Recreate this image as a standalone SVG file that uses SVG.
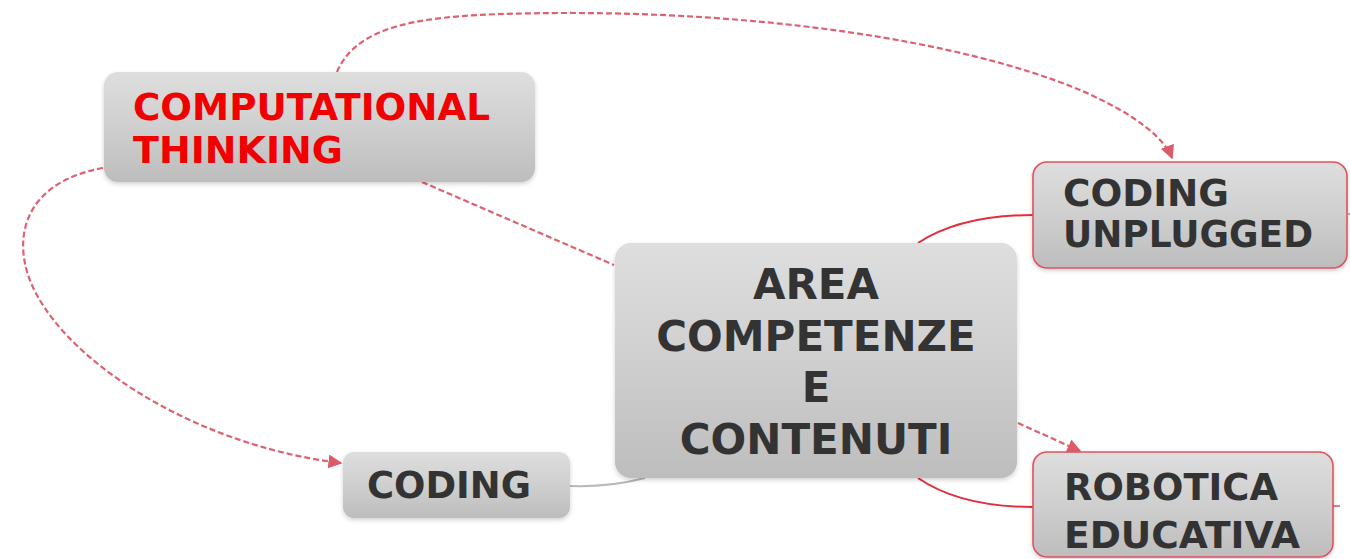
<svg xmlns="http://www.w3.org/2000/svg" width="1350" height="559" viewBox="0 0 1350 559">
<style>
.node{fill:url(#g);filter:url(#sh)}
.red{stroke:#e0525f;stroke-width:1.6}
.t{font-family:"DejaVu Sans",Verdana,sans-serif;font-weight:bold;fill:#333333;font-size:37.5px}
.tr{fill:#f20000}
.dash{fill:none;stroke:#de6170;stroke-width:2.2;stroke-dasharray:6 3}
.solid{fill:none;stroke:#e0303e;stroke-width:2}
</style>
<defs>
<linearGradient id="g" x1="0" y1="0" x2="0" y2="1">
<stop offset="0" stop-color="#dedede"/>
<stop offset="0.5" stop-color="#cfcfcf"/>
<stop offset="1" stop-color="#bdbdbd"/>
</linearGradient>
<filter id="sh" x="-10%" y="-10%" width="120%" height="130%">
<feDropShadow dx="0" dy="2" stdDeviation="2" flood-color="#000" flood-opacity="0.18"/>
</filter>
<marker id="ahb" viewBox="0 0 10 10" refX="9" refY="5" markerWidth="14" markerHeight="14" orient="auto" markerUnits="userSpaceOnUse">
<path d="M0,0 L10,5 L0,10 z" fill="#de5a68"/>
</marker>
</defs>
<rect width="1350" height="559" fill="#ffffff"/>
<g id="connectors">
<path class="dash" d="M337,72 C360,18 440,14 560,13 C760,12 960,40 1080,90 C1140,116 1165,140 1172,158" marker-end="url(#ahb)"/>
<path class="dash" d="M103,168 C35,180 12,225 28,275 C55,355 190,445 341,463" marker-end="url(#ahb)"/>
<path class="dash" d="M422,182 L614,265"/>
<path class="dash" d="M1018,423 L1080,451" marker-end="url(#ahb)"/>
<path class="solid" d="M918,243 C950,222 990,215 1033,215"/>
<path class="solid" d="M918,478 C950,500 990,507 1033,507"/>
<path fill="none" stroke="#b8b8b8" stroke-width="2" d="M570,486 C600,487 622,484 645,478"/>
<path fill="none" stroke="#999" stroke-width="1.5" d="M1348,214 L1350,214"/>
<path fill="none" stroke="#e0525f" stroke-width="1.5" d="M1333,506 L1340,506"/>
</g>
<g id="node-ct">
<rect class="node" x="104" y="72" width="431" height="110" rx="14"/>
<text class="t tr" x="133" y="120" textLength="357" lengthAdjust="spacingAndGlyphs">COMPUTATIONAL</text>
<text class="t tr" x="133" y="163" textLength="210" lengthAdjust="spacingAndGlyphs">THINKING</text>
</g>
<g id="node-cu">
<rect class="node red" x="1033" y="162" width="314" height="106" rx="14"/>
<text class="t" x="1063" y="206" textLength="166" lengthAdjust="spacingAndGlyphs">CODING</text>
<text class="t" x="1063" y="247" textLength="250" lengthAdjust="spacingAndGlyphs">UNPLUGGED</text>
</g>
<g id="node-area">
<rect class="node" x="615" y="243" width="402" height="235" rx="16"/>
<text class="t" x="816" y="299" text-anchor="middle" style="font-size:42px">AREA</text>
<text class="t" x="816" y="351" text-anchor="middle" style="font-size:42px">COMPETENZE</text>
<text class="t" x="816" y="402" text-anchor="middle" style="font-size:42px">E</text>
<text class="t" x="816" y="454" text-anchor="middle" style="font-size:42px">CONTENUTI</text>
</g>
<g id="node-coding">
<rect class="node" x="343" y="452" width="227" height="66" rx="11"/>
<text class="t" x="367" y="498" textLength="164" lengthAdjust="spacingAndGlyphs">CODING</text>
</g>
<g id="node-robotica">
<rect class="node red" x="1033" y="452" width="300" height="105" rx="14"/>
<text class="t" x="1064" y="500" textLength="214" lengthAdjust="spacingAndGlyphs">ROBOTICA</text>
<text class="t" x="1064" y="548" textLength="236" lengthAdjust="spacingAndGlyphs">EDUCATIVA</text>
</g>
</svg>
